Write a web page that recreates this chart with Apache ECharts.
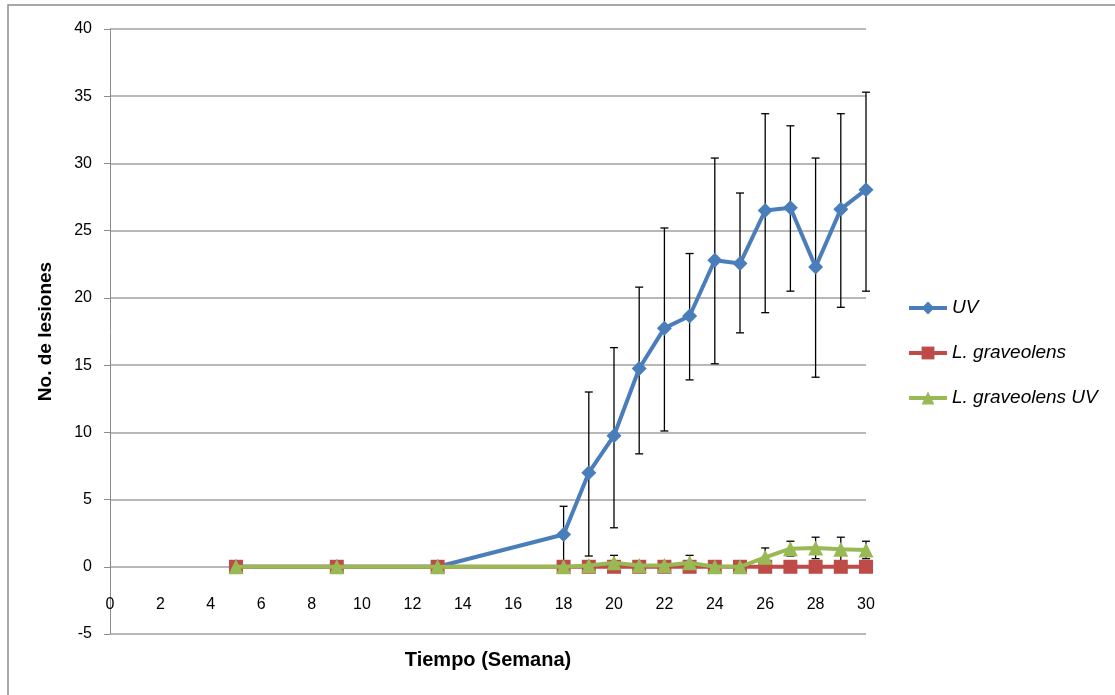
<!DOCTYPE html>
<html>
<head>
<meta charset="utf-8">
<script src="https://cdn.jsdelivr.net/npm/echarts@6/dist/echarts.min.js"></script>
<style>html,body{margin:0;padding:0;background:#fff;}#c{width:1115px;height:695px;}</style>
</head>
<body>
<div id="c"></div>
<script>
const weeks = [5, 9, 13, 18, 19, 20, 21, 22, 23, 24, 25, 26, 27, 28, 29, 30];
const uv = [0, 0, 0, 2.4, 7.0, 9.75, 14.75, 17.75, 18.65, 22.8, 22.55, 26.5, 26.7, 22.3, 26.6, 28.05];
const uvHigh = [null, null, null, 4.5, 13.0, 16.3, 20.8, 25.2, 23.3, 30.4, 27.8, 33.7, 32.8, 30.4, 33.7, 35.3];
const uvLow = [null, null, null, 0.3, 0.8, 2.9, 8.4, 10.1, 13.9, 15.1, 17.4, 18.9, 20.5, 14.1, 19.3, 20.5];
const lg = [0, 0, 0, 0, 0, 0, 0, 0, 0, 0, 0, 0, 0, 0, 0, 0];
const lgUv = [0, 0, 0, 0, 0.1, 0.3, 0.1, 0.1, 0.3, 0, 0, 0.7, 1.35, 1.4, 1.3, 1.25];
const lgUvHigh = [null, null, null, null, null, 0.85, null, null, 0.85, null, null, 1.4, 1.9, 2.2, 2.2, 1.9];
const lgUvLow = [null, null, null, null, null, 0, null, null, 0, null, null, 0, 0.8, 0.6, 0.4, 0.6];
const names = ['UV', 'L. graveolens', 'L. graveolens UV'];
const colors = ['#4A7EBB', '#BE4B48', '#98B954'];

function pairs(ys) { return weeks.map((w, i) => [w, ys[i]]); }
function errData(lo, hi) {
  const out = [];
  weeks.forEach((w, i) => { if (hi[i] !== null) out.push([w, lo[i], hi[i]]); });
  return out;
}
function errRender(params, api) {
  const x = api.value(0), lo = api.value(1), hi = api.value(2);
  const p1 = api.coord([x, hi]), p2 = api.coord([x, lo]);
  const w = 4;
  const st = { stroke: '#000', lineWidth: 1.3 };
  return { type: 'group', children: [
    { type: 'line', shape: { x1: p1[0], y1: p1[1], x2: p2[0], y2: p2[1] }, style: st },
    { type: 'line', shape: { x1: p1[0] - w, y1: p1[1], x2: p1[0] + w, y2: p1[1] }, style: st },
    { type: 'line', shape: { x1: p2[0] - w, y1: p2[1], x2: p2[0] + w, y2: p2[1] }, style: st }
  ]};
}

const font = 'Liberation Sans';
const chart = echarts.init(document.getElementById('c'));
chart.setOption({
  animation: false,
  backgroundColor: '#fff',
  graphic: [{ type: 'rect', shape: { x: 8, y: 5, width: 1130, height: 720 }, style: { fill: 'none', stroke: '#8c8c8c', lineWidth: 1.5 }, z: -1 }],
  grid: { left: 110, right: 249, top: 29, bottom: 61, containLabel: false, outerBoundsMode: 'none' },
  legend: {
    orient: 'vertical', left: 902, top: 293, itemGap: 25, itemWidth: 38, itemHeight: 16,
    data: names,
    lineStyle: { width: 4 },
    textStyle: { fontFamily: font, fontSize: 19, lineHeight: 20, fontStyle: 'italic', color: '#000' }
  },
  xAxis: {
    type: 'value', min: 0, max: 30, interval: 2,
    name: 'Tiempo (Semana)', nameLocation: 'middle', nameGap: 16, nameMoveOverlap: false,
    nameTextStyle: { fontFamily: font, fontSize: 20, fontWeight: 'bold', color: '#000' },
    axisLine: { show: false, onZero: false },
    axisTick: { show: false },
    axisLabel: { margin: -37, fontFamily: font, fontSize: 16, color: '#000' },
    splitLine: { show: false }
  },
  yAxis: {
    type: 'value', min: -5, max: 40, interval: 5,
    name: 'No. de lesiones', nameLocation: 'middle', nameGap: 55, nameRotate: 90, nameMoveOverlap: false,
    nameTextStyle: { fontFamily: font, fontSize: 19, fontWeight: 'bold', color: '#000' },
    axisLine: { show: true, onZero: false, lineStyle: { color: '#8c8c8c', width: 1 } },
    axisTick: { show: true, inside: false, length: 6, lineStyle: { color: '#8c8c8c' } },
    axisLabel: { margin: 18, fontFamily: font, fontSize: 16, color: '#000' },
    splitLine: { show: true, lineStyle: { color: '#a0a0a0', width: 1.5 } }
  },
  series: [
    { type: 'custom', name: 'errUV', renderItem: errRender, data: errData(uvLow, uvHigh), z: 1, silent: true },
    { type: 'custom', name: 'errLGUV', renderItem: errRender, data: errData(lgUvLow, lgUvHigh), z: 1, silent: true },
    { type: 'line', name: names[0], data: pairs(uv), color: colors[0], symbol: 'diamond', symbolSize: 15,
      lineStyle: { width: 4 }, itemStyle: { color: colors[0] }, z: 3 },
    { type: 'line', name: names[1], data: pairs(lg), color: colors[1], symbol: 'rect', symbolSize: 14,
      lineStyle: { width: 4 }, itemStyle: { color: colors[1] }, z: 4 },
    { type: 'line', name: names[2], data: pairs(lgUv), color: colors[2], symbol: 'triangle', symbolSize: 15,
      lineStyle: { width: 4 }, itemStyle: { color: colors[2] }, z: 5 }
  ]
});
</script>
</body>
</html>
